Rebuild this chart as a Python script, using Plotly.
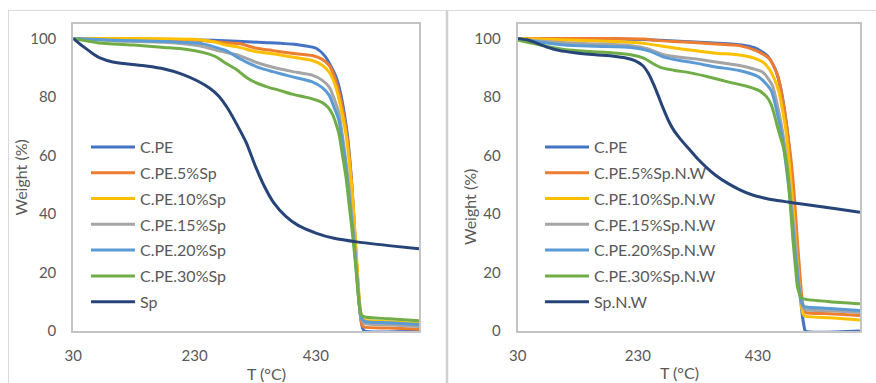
import plotly.graph_objects as go

# ---------------- data (left panel: Sp) ----------------
names_L = ["C.PE", "C.PE.5%Sp", "C.PE.10%Sp", "C.PE.15%Sp", "C.PE.20%Sp", "C.PE.30%Sp", "Sp"]

T_L_cpe = [30, 100, 200, 260, 300, 350, 400, 430, 445, 455, 463, 470, 476, 482, 487, 491, 495, 499, 503, 507, 510, 600]
W_L_cpe = [100, 99.8, 99.6, 99.4, 99.1, 98.6, 97.9, 96.7, 94.0, 90.5, 87.0, 82.0, 75.5, 67.0, 56.0, 44.0, 30.0, 17.0, 6.0, 1.0, 0.0, 0.0]

T_L_5 = [30, 150, 230, 260, 280, 304, 330, 359, 390, 424, 440, 452, 461, 468, 474, 479, 485, 490, 494, 498, 502, 506, 510, 550, 600]
W_L_5 = [100, 99.9, 99.6, 99.0, 98.6, 98.3, 96.8, 95.9, 95.0, 94.2, 93.0, 90.8, 86.8, 81.7, 76.0, 70.0, 60.0, 48.0, 34.0, 20.0, 8.0, 2.0, 1.3, 1.0, 0.6]

T_L_10 = [30, 150, 230, 260, 280, 304, 330, 359, 390, 424, 440, 452, 462, 468, 474, 479, 485, 490, 494, 498, 502, 506, 510, 550, 600]
W_L_10 = [100, 100, 99.8, 99.0, 97.9, 97.0, 95.6, 94.8, 93.7, 92.5, 91.0, 88.5, 84.0, 79.4, 73.5, 68.0, 58.0, 47.0, 35.0, 22.0, 10.0, 4.5, 3.6, 3.2, 2.6]

T_L_15 = [30, 100, 180, 240, 270, 304, 330, 359, 390, 424, 440, 452, 460, 468, 475, 482, 488, 493, 497, 501, 505, 510, 550, 600]
W_L_15 = [100, 99.2, 98.8, 97.5, 95.8, 94.2, 92.0, 90.2, 88.8, 87.5, 85.8, 83.4, 79.5, 74.4, 65.0, 54.0, 42.0, 32.0, 21.0, 10.0, 4.0, 2.6, 2.1, 1.5]

T_L_20 = [30, 100, 180, 244, 265, 282, 304, 320, 340, 359, 390, 424, 440, 452, 460, 468, 473, 480, 486, 492, 497, 501, 505, 510, 550, 600]
W_L_20 = [100, 99.4, 99.0, 98.2, 97.0, 95.9, 93.2, 91.5, 89.8, 88.7, 87.0, 85.2, 83.3, 80.6, 76.5, 72.0, 66.0, 55.0, 43.0, 32.0, 20.0, 10.0, 4.5, 3.3, 2.8, 2.2]

T_L_30 = [30, 70, 130, 180, 215, 245, 265, 282, 300, 315, 330, 348, 370, 391, 410, 424, 440, 450, 458, 463, 468, 474, 480, 486, 492, 497, 501, 505, 510, 550, 600]
W_L_30 = [100, 98.6, 97.8, 97.0, 96.4, 95.2, 93.8, 91.5, 89.3, 86.8, 85.0, 83.6, 82.3, 81.0, 80.1, 79.4, 78.2, 76.5, 73.8, 71.0, 67.5, 60.0, 52.0, 41.0, 30.0, 19.0, 10.0, 5.5, 4.8, 4.2, 3.5]

T_L_sp = [30, 45, 60, 75, 95, 120, 150, 180, 210, 235, 255, 270, 285, 300, 315, 330, 345, 360, 380, 400, 430, 460, 500, 550, 600]
W_L_sp = [100, 97.5, 95.2, 93.3, 92.0, 91.3, 90.6, 89.6, 87.8, 85.5, 83.0, 80.3, 76.0, 70.5, 64.5, 56.5, 49.5, 44.0, 39.3, 36.2, 33.5, 31.7, 30.4, 29.2, 28.1]

# ---------------- data (right panel: Sp.N.W) ----------------
names_R = ["C.PE", "C.PE.5%Sp.N.W", "C.PE.10%Sp.N.W", "C.PE.15%Sp.N.W", "C.PE.20%Sp.N.W", "C.PE.30%Sp.N.W", "Sp.N.W"]

T_R_cpe = [30, 200, 250, 300, 350, 400, 425, 445, 458, 468, 476, 482, 487, 491, 495, 499, 503, 507, 509, 600]
W_R_cpe = [100, 99.9, 99.6, 99.1, 98.6, 97.9, 96.8, 94.3, 90.0, 83.0, 73.0, 63.0, 52.0, 41.0, 29.0, 17.0, 7.0, 1.5, 0.0, 0.0]

T_R_5 = [30, 200, 240, 260, 290, 324, 360, 399, 427, 449, 463, 474, 480, 486, 491, 495, 499, 503, 507, 510, 550, 600]
W_R_5 = [100, 100, 99.9, 99.4, 99.0, 98.7, 98.2, 97.6, 95.9, 93.1, 87.4, 76.0, 66.9, 57.0, 45.0, 33.0, 22.0, 12.0, 7.0, 6.3, 5.9, 5.3]

T_R_10 = [30, 100, 190, 230, 247, 271, 300, 324, 360, 399, 427, 440, 449, 458, 465, 471, 477, 482, 487, 492, 497, 502, 506, 510, 550, 600]
W_R_10 = [100, 99.6, 99.0, 98.6, 98.2, 97.4, 96.5, 95.9, 95.0, 94.4, 93.1, 91.7, 89.6, 86.0, 81.7, 75.5, 68.0, 58.0, 46.0, 33.0, 20.0, 9.0, 5.5, 5.0, 4.5, 3.75]

T_R_15 = [30, 60, 108, 160, 219, 247, 275, 300, 324, 360, 399, 438, 454, 465, 472, 478, 484, 489, 494, 499, 504, 508, 550, 600]
W_R_15 = [100, 99.3, 98.6, 98.2, 97.6, 96.5, 94.4, 93.6, 93.1, 92.0, 90.8, 88.5, 84.0, 74.8, 66.9, 58.0, 47.0, 37.0, 26.0, 15.0, 8.5, 7.3, 6.9, 6.3]

T_R_20 = [30, 60, 108, 160, 219, 247, 275, 300, 324, 360, 399, 432, 452, 463, 470, 476, 482, 487, 492, 497, 502, 507, 510, 550, 600]
W_R_20 = [100, 99.0, 97.8, 97.4, 97.0, 95.9, 93.6, 92.5, 91.7, 90.3, 89.1, 86.8, 82.3, 73.7, 66.9, 58.0, 48.0, 38.0, 27.0, 17.0, 10.0, 8.4, 8.2, 7.7, 7.0]

T_R_30 = [30, 50, 75, 110, 150, 190, 220, 240, 255, 270, 290, 320, 350, 380, 410, 432, 445, 452, 458, 463, 468, 474, 479, 484, 488, 492, 496, 502, 508, 550, 600]
W_R_30 = [99.5, 98.6, 97.5, 96.2, 95.6, 95.1, 94.4, 93.3, 91.5, 90.0, 89.2, 88.2, 86.8, 85.2, 83.8, 82.2, 80.0, 77.5, 73.5, 69.5, 66.0, 61.5, 55.0, 43.0, 32.0, 23.0, 15.0, 11.5, 10.9, 10.0, 9.3]

T_R_sp = [30, 45, 60, 80, 100, 125, 160, 190, 210, 225, 238, 248, 256, 264, 272, 281, 290, 300, 315, 330, 345, 360, 380, 400, 420, 440, 460, 480, 500, 530, 560, 600]
W_R_sp = [100, 99.6, 98.6, 97.0, 95.9, 95.2, 94.5, 94.0, 93.4, 92.5, 90.8, 88.0, 84.5, 80.5, 76.3, 72.0, 68.6, 65.9, 62.3, 58.8, 55.8, 53.2, 50.5, 48.3, 46.6, 45.5, 44.7, 44.1, 43.5, 42.7, 41.8, 40.6]

x_ticks = [30, 230, 430]
y_ticks = [0, 20, 40, 60, 80, 100]

colors = ["#4472C4", "#ED7D31", "#FFC000", "#A5A5A5", "#5B9BD5", "#70AD47", "#264478"]

# ---------------- figure ----------------
W_FIG, H_FIG = 876, 383
def px_x(p):
    return p / W_FIG
def px_y(p):
    return 1 - p / H_FIG

FONT = "Lato"
GREY = "#595959"

fig = go.Figure()

series_L = [(T_L_cpe, W_L_cpe), (T_L_5, W_L_5), (T_L_10, W_L_10), (T_L_15, W_L_15),
            (T_L_20, W_L_20), (T_L_30, W_L_30), (T_L_sp, W_L_sp)]
series_R = [(T_R_cpe, W_R_cpe), (T_R_5, W_R_5), (T_R_10, W_R_10), (T_R_15, W_R_15),
            (T_R_20, W_R_20), (T_R_30, W_R_30), (T_R_sp, W_R_sp)]

for i, (name, (t, w)) in enumerate(zip(names_L, series_L)):
    fig.add_trace(go.Scatter(x=t, y=w, name=name, mode="lines",
                             line=dict(color=colors[i], width=3, shape="spline", smoothing=0.6),
                             xaxis="x", yaxis="y", legend="legend", legendgroup="L%d" % i))
for i, (name, (t, w)) in enumerate(zip(names_R, series_R)):
    fig.add_trace(go.Scatter(x=t, y=w, name=name, mode="lines",
                             line=dict(color=colors[i], width=3, shape="spline", smoothing=0.6),
                             xaxis="x2", yaxis="y2", legend="legend2", legendgroup="R%d" % i))

axis_common = dict(showgrid=False, zeroline=False, showline=True, mirror=True,
                   linecolor="#C4C4C4", linewidth=2, ticks="", automargin=False,
                   tickfont=dict(family=FONT, size=15, color=GREY))

ydom = [px_y(331), px_y(24)]
fig.update_layout(
    width=W_FIG, height=H_FIG,
    margin=dict(l=0, r=0, t=0, b=0, autoexpand=False),
    paper_bgcolor="white", plot_bgcolor="white",
    font=dict(family=FONT, color=GREY),
    xaxis=dict(domain=[px_x(73.3), px_x(419)], range=[30, 600], tickvals=x_ticks,
               ticklabelstandoff=10, anchor="y", **axis_common),
    yaxis=dict(domain=ydom, range=[0, 105], tickvals=y_ticks,
               ticklabelstandoff=12, anchor="x", **axis_common),
    xaxis2=dict(domain=[px_x(517.7), px_x(860)], range=[30, 600], tickvals=x_ticks,
                ticklabelstandoff=10, anchor="y2", **axis_common),
    yaxis2=dict(domain=ydom, range=[0, 105], tickvals=y_ticks,
                ticklabelstandoff=12, anchor="x2", **axis_common),
    legend=dict(x=px_x(86), y=px_y(130), xanchor="left", yanchor="top",
                bgcolor="rgba(0,0,0,0)", font=dict(family=FONT, size=16, color=GREY),
                tracegroupgap=2, itemwidth=44),
    legend2=dict(x=px_x(540), y=px_y(130), xanchor="left", yanchor="top",
                 bgcolor="rgba(0,0,0,0)", font=dict(family=FONT, size=16, color=GREY),
                 tracegroupgap=2, itemwidth=44),
    showlegend=True,
)

ann_font = dict(family=FONT, size=16, color=GREY)
fig.add_annotation(x=px_x(20), y=px_y(177.5), xref="paper", yref="paper", text="Weight (%)",
                   textangle=-90, showarrow=False, font=ann_font, xanchor="center", yanchor="middle")
fig.add_annotation(x=px_x(266.7), y=px_y(373), xref="paper", yref="paper", text="T (°C)",
                   showarrow=False, font=ann_font, xanchor="center", yanchor="middle")
fig.add_annotation(x=px_x(469), y=px_y(207), xref="paper", yref="paper", text="Weight (%)",
                   textangle=-90, showarrow=False, font=ann_font, xanchor="center", yanchor="middle")
fig.add_annotation(x=px_x(679), y=px_y(372), xref="paper", yref="paper", text="T (°C)",
                   showarrow=False, font=ann_font, xanchor="center", yanchor="middle")

# chart-area borders
border = dict(color="#D9D9D9", width=1)
fig.add_shape(type="line", xref="paper", yref="paper", x0=px_x(8), x1=1, y0=px_y(10.5), y1=px_y(10.5), line=border)
fig.add_shape(type="line", xref="paper", yref="paper", x0=px_x(8.5), x1=px_x(8.5), y0=0, y1=px_y(10.5), line=border)
fig.add_shape(type="line", xref="paper", yref="paper", x0=px_x(447), x1=px_x(447), y0=0, y1=px_y(10.5),
              line=dict(color="#D0D0D0", width=2.5))

fig.write_html("out.html", config={"displayModeBar": False},
               post_script="document.body.style.margin='0px';")
